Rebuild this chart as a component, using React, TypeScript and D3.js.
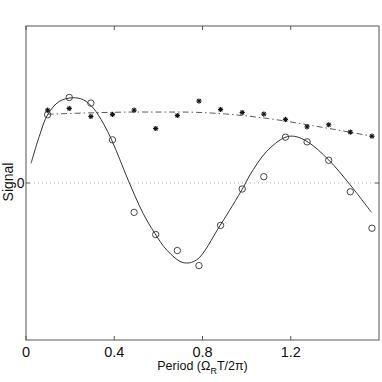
import { useMemo } from "react";
import * as d3 from "d3";

const WIDTH = 382;
const HEIGHT = 382;
const MARGIN = { top: 26, right: 3, bottom: 42, left: 26 };

// measured periods (Omega_R T / 2pi)
const periods = [0.098, 0.196, 0.294, 0.392, 0.49, 0.588, 0.686, 0.784, 0.882, 0.98, 1.078, 1.176, 1.274, 1.372, 1.47, 1.568];
// open circles
const circleSignal = [0.435, 0.545, 0.509, 0.275, -0.187, -0.328, -0.43, -0.526, -0.27, -0.038, 0.04, 0.292, 0.262, 0.145, -0.056, -0.288];
// asterisks
const starSignal = [0.464, 0.475, 0.424, 0.437, 0.464, 0.347, 0.43, 0.522, 0.468, 0.449, 0.439, 0.405, 0.358, 0.371, 0.324, 0.298];

// solid fit through the circles
const fitX = [0.023, 0.06, 0.098, 0.151, 0.211, 0.26, 0.305, 0.35, 0.388, 0.426, 0.463, 0.531, 0.584, 0.64, 0.712, 0.773, 0.879, 0.984, 1.015, 1.09, 1.173, 1.218, 1.279, 1.372, 1.467, 1.566];
const fitY = [0.126, 0.296, 0.435, 0.52, 0.543, 0.53, 0.477, 0.381, 0.275, 0.147, 0.019, -0.194, -0.321, -0.43, -0.507, -0.49, -0.272, -0.03, 0.051, 0.2, 0.29, 0.297, 0.26, 0.147, -0.008, -0.187];

// dash-dot fit through the asterisks
const trendX = [0.098, 0.3, 0.5, 0.7, 0.9, 1.1, 1.3, 1.568];
const trendY = [0.438, 0.447, 0.452, 0.452, 0.44, 0.41, 0.365, 0.298];

const xTicks = [0, 0.4, 0.8, 1.2];
const yTicks = [0];

const FONT = "'Liberation Sans', Arial, Helvetica, sans-serif";
const FRAME = "#555";

export default function App() {
  const x = useMemo(
    () => d3.scaleLinear().domain([0, 1.6]).range([MARGIN.left, WIDTH - MARGIN.right]),
    [],
  );
  const y = useMemo(
    () => d3.scaleLinear().domain([-1, 1]).range([HEIGHT - MARGIN.bottom, MARGIN.top]),
    [],
  );

  const fitPath = useMemo(() => {
    const line = d3
      .line<number>()
      .x((_, i) => x(fitX[i]))
      .y((d) => y(d))
      .curve(d3.curveCatmullRom.alpha(0.5));
    return line(fitY) || "";
  }, [x, y]);

  const trendPath = useMemo(() => {
    const line = d3
      .line<number>()
      .x((_, i) => x(trendX[i]))
      .y((d) => y(d))
      .curve(d3.curveMonotoneX);
    return line(trendY) || "";
  }, [x, y]);

  const left = MARGIN.left;
  const right = WIDTH - MARGIN.right;
  const top = MARGIN.top;
  const bottom = HEIGHT - MARGIN.bottom;

  return (
    <svg width={WIDTH} height={HEIGHT} style={{ position: "absolute", left: 0, top: 0, background: "#fff" }}>
      <rect x={0} y={0} width={WIDTH} height={HEIGHT} fill="#fff" />

      {/* zero line */}
      {yTicks.map((t) => (
        <g key={`y-${t}`}>
          <line x1={left} x2={right} y1={y(t)} y2={y(t)} stroke="#bbb" strokeWidth={1} strokeDasharray="1 3" />
          <line x1={left} x2={left + 4} y1={y(t)} y2={y(t)} stroke={FRAME} />
          <line x1={right} x2={right - 4} y1={y(t)} y2={y(t)} stroke={FRAME} />
          <text x={left - 1.5} y={y(t) + 5} textAnchor="end" fontFamily={FONT} fontSize={14} fill="#111">
            {t}
          </text>
        </g>
      ))}

      {xTicks.map((t) => (
        <g key={`x-${t}`}>
          <line x1={x(t)} x2={x(t)} y1={bottom} y2={bottom - 4} stroke={FRAME} />
          <line x1={x(t)} x2={x(t)} y1={top} y2={top + 4} stroke={FRAME} />
          <text x={x(t)} y={bottom + 17} textAnchor="middle" fontFamily={FONT} fontSize={14.5} fill="#111">
            {t === 0 ? "0" : t.toFixed(1)}
          </text>
        </g>
      ))}

      <rect x={left} y={top} width={right - left} height={bottom - top} fill="none" stroke={FRAME} strokeWidth={1} />

      <path d={trendPath} fill="none" stroke="#333" strokeWidth={0.8} strokeDasharray="6 3 1.5 3" />
      <path d={fitPath} fill="none" stroke="#333" strokeWidth={1} />

      {periods.map((p, i) => (
        <circle key={`c-${i}`} cx={x(p)} cy={y(circleSignal[i])} r={3.2} fill="none" stroke="#333" strokeWidth={0.9} />
      ))}

      {periods.map((p, i) => {
        const cx = x(p);
        const cy = y(starSignal[i]);
        const s = 2.6;
        const d = s * 0.72;
        return (
          <g key={`s-${i}`} stroke="#111" strokeWidth={1.1}>
            <line x1={cx - s} x2={cx + s} y1={cy} y2={cy} />
            <line x1={cx} x2={cx} y1={cy - s} y2={cy + s} />
            <line x1={cx - d} x2={cx + d} y1={cy - d} y2={cy + d} />
            <line x1={cx - d} x2={cx + d} y1={cy + d} y2={cy - d} />
          </g>
        );
      })}

      <text
        transform={`translate(13 ${y(0) - 1}) rotate(-90)`}
        textAnchor="middle"
        fontFamily={FONT}
        fontSize={14}
        fill="#111"
      >
        Signal
      </text>

      <text x={(left + right) / 2} y={bottom + 30} textAnchor="middle" fontFamily={FONT} fontSize={12.5} fill="#111">
        Period (Ω
        <tspan fontSize={9} dy={4}>R</tspan>
        <tspan dy={-4}>T/2π)</tspan>
      </text>
    </svg>
  );
}
